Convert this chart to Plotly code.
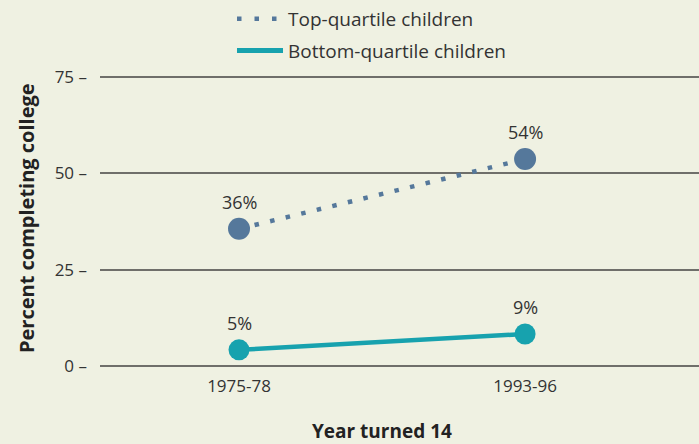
import plotly.graph_objects as go

categories = ["1975-78", "1993-96"]
top_values = [35.6, 53.7]
top_labels = ["36%", "54%"]
bottom_values = [4.2, 8.3]
bottom_labels = ["5%", "9%"]
y_ticks = [0, 25, 50, 75]

BG = "#eff1e2"
TOP = "#55789b"
BOT = "#17a2ae"
TXT = "#333333"
GRID = "#6f6f6a"
FONT = "Open Sans"

fig = go.Figure()

fig.add_trace(go.Scatter(
    x=[0, 1], y=top_values, mode="lines", showlegend=False,
    line=dict(color=TOP, width=4.5, dash="4.5px,11.5px"), hoverinfo="skip"))
fig.add_trace(go.Scatter(
    x=[0, 1], y=top_values, mode="markers", showlegend=False,
    marker=dict(color=TOP, size=22)))
fig.add_trace(go.Scatter(
    x=[0, 1], y=bottom_values, mode="lines+markers", showlegend=False,
    line=dict(color=BOT, width=4.5), marker=dict(color=BOT, size=21)))

# legend-only entries
fig.add_trace(go.Scatter(x=[None], y=[None], mode="lines", name="Top-quartile children",
                         legendgroup="a",
                         line=dict(color=TOP, width=4.5, dash="4.5px,13px")))
fig.add_trace(go.Scatter(x=[None], y=[None], mode="lines", name="Bottom-quartile children",
                         legendgroup="b",
                         line=dict(color=BOT, width=5)))

annotations = []
for xs, vals, labs in [([0, 1], top_values, top_labels), ([0, 1], bottom_values, bottom_labels)]:
    for xv, yv, t in zip(xs, vals, labs):
        annotations.append(dict(x=xv, y=yv, text=t, showarrow=False, yshift=27,
                                font=dict(size=18, color=TXT, family=FONT)))

annotations.append(dict(xref="paper", yref="paper", x=0.4708, y=-0.222,
                        text="<b>Year turned 14</b>", showarrow=False,
                        xanchor="center", yanchor="middle",
                        font=dict(size=19, color="#222222", family=FONT)))
annotations.append(dict(xref="paper", yref="paper", x=-0.1235, y=0.505,
                        text="<b>Percent completing college</b>", showarrow=False,
                        textangle=-90, xanchor="center", yanchor="middle",
                        font=dict(size=20, color="#222222", family=FONT)))

fig.update_layout(
    width=699, height=444,
    paper_bgcolor=BG, plot_bgcolor=BG,
    margin=dict(l=100, r=0, t=73, b=78, autoexpand=False),
    font=dict(family=FONT, color=TXT, size=16),
    annotations=annotations,
    legend=dict(xref="container", yref="container", x=232 / 699, y=1.0,
                xanchor="left", yanchor="top", itemwidth=46,
                bgcolor="rgba(0,0,0,0)",
                font=dict(size=19, color=TXT), tracegroupgap=4),
    xaxis=dict(range=[-0.486, 1.608], tickmode="array", tickvals=[0, 1],
               ticktext=categories, showgrid=False, zeroline=False, showline=False,
               tickfont=dict(size=17, color=TXT), ticks="", automargin=False,
               ticklabelstandoff=8),
    yaxis=dict(range=[0, 76.04], tickmode="array", tickvals=y_ticks,
               ticktext=[f"{v} –" for v in y_ticks], showgrid=True,
               gridcolor=GRID, gridwidth=1.5, zeroline=True,
               zerolinecolor=GRID, zerolinewidth=1.5, showline=False,
               tickfont=dict(size=17, color=TXT), ticks="", ticklabelstandoff=12,
               automargin=False),
)

fig.write_html("out.html", config={"displayModeBar": False},
               post_script="document.body.style.margin='0';document.body.style.background='%s';" % BG)
